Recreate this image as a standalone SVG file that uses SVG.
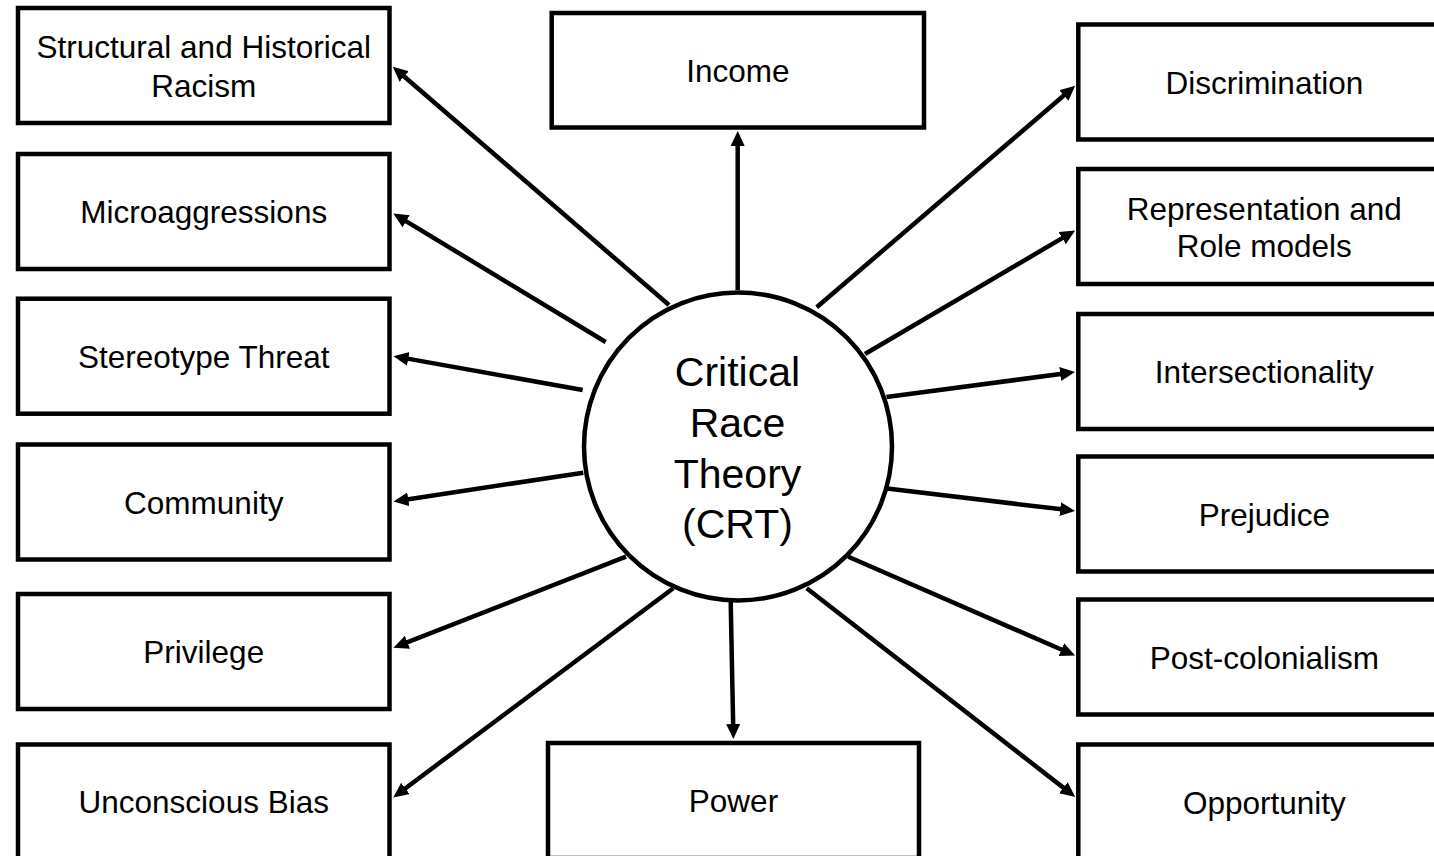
<svg xmlns="http://www.w3.org/2000/svg" width="1434" height="856" viewBox="0 0 1434 856">
<style>
.box{fill:#fff;stroke:#000;stroke-width:4.5}
.hub{fill:#fff;stroke:#000;stroke-width:4.5}
.lbl{font-family:"Liberation Sans",Arial,sans-serif;font-size:31.5px;fill:#000;text-anchor:middle}
.hubl{font-family:"Liberation Sans",Arial,sans-serif;font-size:41px;fill:#000;text-anchor:middle}
.conn{stroke:#000;stroke-width:4.5;fill:none;marker-end:url(#ah)}
</style>
<defs>
<marker id="ah" markerUnits="userSpaceOnUse" markerWidth="16" markerHeight="15" refX="8" refY="7" orient="auto">
<path d="M0,0 L15,7 L0,14 z" fill="#000"/>
</marker>
</defs>
<rect width="1434" height="856" fill="#fff"/>
<g id="connectors">
<line class="conn" x1="669" y1="305" x2="398.1" y2="71.2"/>
<line class="conn" x1="605.7" y1="342" x2="399.3" y2="217.1"/>
<line class="conn" x1="582.7" y1="390" x2="400.4" y2="357.4"/>
<line class="conn" x1="583.3" y1="472.7" x2="400.4" y2="500.5"/>
<line class="conn" x1="626" y1="556.7" x2="400" y2="645.1"/>
<line class="conn" x1="673.3" y1="588.3" x2="398.9" y2="793.2"/>
<line class="conn" x1="730.7" y1="601.7" x2="733.3" y2="732"/>
<line class="conn" x1="806.7" y1="588.3" x2="1069.7" y2="792.6"/>
<line class="conn" x1="848.3" y1="556.7" x2="1068.7" y2="652.8"/>
<line class="conn" x1="885" y1="488.3" x2="1068.1" y2="510.1"/>
<line class="conn" x1="886.5" y1="397" x2="1068.1" y2="373"/>
<line class="conn" x1="865" y1="354" x2="1069.1" y2="234.1"/>
<line class="conn" x1="816.7" y1="307.3" x2="1069.9" y2="90.2"/>
<line class="conn" x1="737.7" y1="290" x2="737.7" y2="138"/>
</g>
<g id="crt">
<circle class="hub" cx="738" cy="446.5" r="154"/>
<text class="hubl" x="737.5" y="386">Critical</text>
<text class="hubl" x="737.5" y="437">Race</text>
<text class="hubl" x="737.5" y="488">Theory</text>
<text class="hubl" x="737.5" y="538">(CRT)</text>
</g>
<g id="structural">
<rect class="box" x="18" y="8" width="371.5" height="115"/>
<text class="lbl" x="203.75" y="58.3">Structural and Historical</text>
<text class="lbl" x="203.75" y="96.7">Racism</text>
</g>
<g id="microaggressions">
<rect class="box" x="18" y="154" width="371.5" height="115"/>
<text class="lbl" x="203.75" y="223">Microaggressions</text>
</g>
<g id="stereotype">
<rect class="box" x="18" y="298.7" width="371.5" height="115"/>
<text class="lbl" x="203.75" y="367.7">Stereotype Threat</text>
</g>
<g id="community">
<rect class="box" x="18" y="444.5" width="371.5" height="115"/>
<text class="lbl" x="203.75" y="513.5">Community</text>
</g>
<g id="privilege">
<rect class="box" x="18" y="594" width="371.5" height="115"/>
<text class="lbl" x="203.75" y="663">Privilege</text>
</g>
<g id="unconscious">
<rect class="box" x="18" y="744.5" width="371.5" height="115"/>
<text class="lbl" x="203.75" y="813">Unconscious Bias</text>
</g>
<g id="income">
<rect class="box" x="551.7" y="13" width="372.3" height="114.5"/>
<text class="lbl" x="737.8" y="81.7">Income</text>
</g>
<g id="power">
<rect class="box" x="548" y="743" width="371" height="115"/>
<text class="lbl" x="733.5" y="812">Power</text>
</g>
<g id="discrimination">
<rect class="box" x="1078.3" y="24.5" width="372" height="115"/>
<text class="lbl" x="1264.3" y="93.5">Discrimination</text>
</g>
<g id="representation">
<rect class="box" x="1078.3" y="169" width="372" height="115"/>
<text class="lbl" x="1264.3" y="220">Representation and</text>
<text class="lbl" x="1264.3" y="256.7">Role models</text>
</g>
<g id="intersectionality">
<rect class="box" x="1078.3" y="314" width="372" height="115"/>
<text class="lbl" x="1264.3" y="383">Intersectionality</text>
</g>
<g id="prejudice">
<rect class="box" x="1078.3" y="456.5" width="372" height="115"/>
<text class="lbl" x="1264.3" y="525.5">Prejudice</text>
</g>
<g id="postcolonialism">
<rect class="box" x="1078.3" y="599.5" width="372" height="115"/>
<text class="lbl" x="1264.3" y="668.5">Post-colonialism</text>
</g>
<g id="opportunity">
<rect class="box" x="1078.3" y="744.5" width="372" height="115"/>
<text class="lbl" x="1264.3" y="813.5">Opportunity</text>
</g>
</svg>
